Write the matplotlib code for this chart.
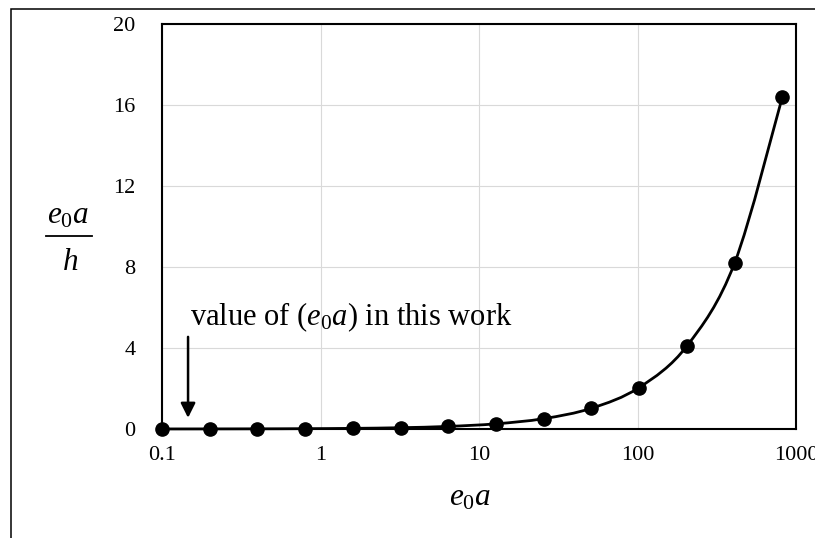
import numpy as np
import matplotlib
matplotlib.use("Agg")
import matplotlib.pyplot as plt
from matplotlib.path import Path
from matplotlib.patches import PathPatch, Rectangle
from matplotlib.lines import Line2D

# nonlocal parameter e0a and the normalised ratio e0a/h
e0a = [0.1, 0.2, 0.4, 0.8, 1.6, 3.2, 6.4, 12.8, 25.6, 51.2, 102.4, 204.8, 409.6, 819.2]
ratio = [0.002, 0.004, 0.008, 0.016, 0.032, 0.064, 0.128, 0.256, 0.512,
         1.024, 2.048, 4.096, 8.192, 16.384]

x_ticks = [0.1, 1, 10, 100, 1000]
x_tick_labels = ["0.1", "1", "10", "100", "1000"]
y_ticks = [0, 4, 8, 12, 16, 20]

# marked value used in the study
work_value = 0.146

plt.rcParams["font.family"] = "Liberation Serif"
plt.rcParams["mathtext.fontset"] = "custom"
plt.rcParams["mathtext.rm"] = "Liberation Serif"
plt.rcParams["mathtext.it"] = "Liberation Serif:italic"


def smooth_path(xs, ys):
    """Catmull-Rom curve through the points, built in log10(x) space."""
    pts = np.column_stack([np.log10(xs), np.asarray(ys, dtype=float)])
    n = len(pts)
    verts = [pts[0]]
    codes = [Path.MOVETO]
    for i in range(n - 1):
        p0 = pts[max(i - 1, 0)]
        p1 = pts[i]
        p2 = pts[i + 1]
        p3 = pts[min(i + 2, n - 1)]
        verts += [p1 + (p2 - p0) / 6, p2 - (p3 - p1) / 6, p2]
        codes += [Path.CURVE4] * 3
    verts = np.array(verts)
    verts[:, 0] = 10 ** verts[:, 0]
    return Path(verts, codes)


fig = plt.figure(figsize=(8.15, 5.38), dpi=100)
ax = fig.add_axes([162 / 815, 1 - 429 / 538, 634 / 815, 405 / 538])

ax.set_xscale("log")
ax.set_xlim(0.1, 1000)
ax.set_ylim(0, 20)
ax.set_xticks(x_ticks)
ax.set_xticklabels(x_tick_labels)
ax.set_yticks(y_ticks)
ax.minorticks_off()
ax.tick_params(length=0, labelsize=16)
ax.tick_params(axis="y", pad=19)
ax.tick_params(axis="x", pad=12)
ax.grid(True, color="#d9d9d9", lw=0.8)
ax.set_axisbelow(True)
for sp in ax.spines.values():
    sp.set_linewidth(1.5)
    sp.set_color("black")

ax.add_patch(PathPatch(smooth_path(e0a, ratio), fill=False, lw=2.0,
                       ec="black", zorder=3, clip_on=False))
ax.plot(e0a, ratio, "o", color="black", ms=9.5, zorder=4, clip_on=False)

ax.annotate("", xy=(work_value, 0.55), xytext=(work_value, 4.55),
            arrowprops=dict(arrowstyle="-|>", color="black", lw=1.8,
                            mutation_scale=22, shrinkA=0, shrinkB=0))
ax.text(0.15, 5.14, r"value of ($e_{0}a$) in this work", fontsize=22,
        ha="left", va="baseline")

# axis titles
fig.text(470 / 815, 1 - 505 / 538, r"$e_0a$", fontsize=22.5, ha="center", va="baseline")
fig.text(68 / 815, 1 - 223 / 538, r"$e_0a$", fontsize=22.5, ha="center", va="baseline")
fig.text(70 / 815, 1 - 270 / 538, r"$h$", fontsize=22.5, ha="center", va="baseline")
fig.add_artist(Line2D([46 / 815, 92 / 815], [1 - 236 / 538] * 2,
                      transform=fig.transFigure, color="black", lw=1.3))

# chart-area frame
fig.add_artist(Rectangle((11 / 815, -0.1), 1.2, 1 - 9 / 538 + 0.1,
                         transform=fig.transFigure, fill=False, ec="black", lw=1.1))

fig.savefig("out.png", dpi=100)
